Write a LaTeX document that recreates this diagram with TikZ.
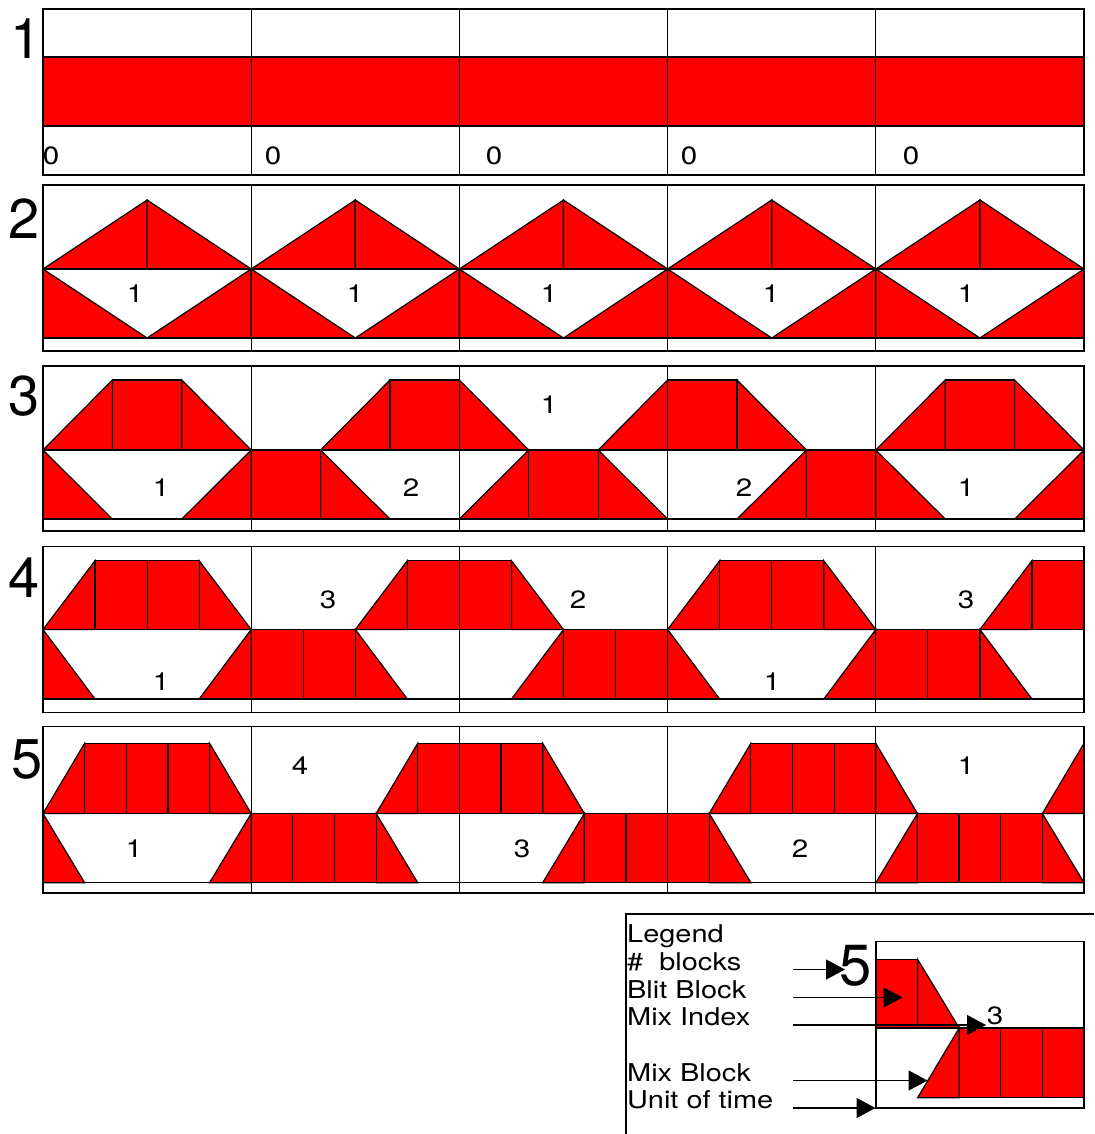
\documentclass[tikz,border=0pt]{standalone}
\usepackage{fontspec}
\setmainfont{TeX Gyre Heros}
\newfontfamily\widefont[FakeStretch=1.18]{TeX Gyre Heros}
\usetikzlibrary{arrows.meta}
\definecolor{blitred}{HTML}{FF0000}
\tikzset{
  blk/.style={draw=black, fill=blitred, line width=1.2pt, line join=miter},
  ln/.style={draw=black, line width=1.2pt},
  small/.style={inner sep=0pt, font=\widefont\fontsize{25}{30}\selectfont},
  big/.style={inner sep=0pt, font=\fontsize{56}{60}\selectfont},
  legtext/.style={inner sep=0pt, anchor=base west, font=\widefont\fontsize{24.5}{28}\selectfont},
  arr/.style={draw=black, line width=1.2pt, -{Triangle[length=19pt,width=20pt]}}
}
\def\XL{43}
\def\XR{1084}
\def\W{208.2}
% #1 n, #2 red top, #3 mid, #4 red bottom, #5 box top, #6 box bottom
\newcommand\blitrow[6]{%
  \begin{scope}
    \clip (\XL,#5) rectangle (\XR,#6);
    \pgfmathsetmacro\uu{\W/#1}
    \pgfmathtruncatemacro\kmax{ceil(5*#1/(#1-1))}
    \foreach \k in {-1,...,\kmax}{
      \pgfmathtruncatemacro\ss{\k*(#1-1)}
      \ifodd\k\relax \def\yt{#3}\def\yb{#4}\else \def\yt{#2}\def\yb{#3}\fi
      \pgfmathsetmacro\xa{\XL+\ss*\uu}
      \pgfmathsetmacro\xb{\XL+(\ss+1)*\uu}
      \pgfmathsetmacro\xc{\XL+(\ss+#1-1)*\uu}
      \pgfmathsetmacro\xd{\XL+(\ss+#1)*\uu}
      \path[blk] (\xa,\yb) -- (\xb,\yt) -- (\xb,\yb) -- cycle;
      \path[blk] (\xc,\yt) -- (\xd,\yb) -- (\xc,\yb) -- cycle;
      \ifnum#1>2
        \pgfmathtruncatemacro\mm{#1-2}
        \foreach \i in {1,...,\mm}{
          \pgfmathsetmacro\xe{\XL+(\ss+\i)*\uu}
          \pgfmathsetmacro\xf{\XL+(\ss+\i+1)*\uu}
          \path[blk] (\xe,\yt) rectangle (\xf,\yb);
        }
      \fi
    }
  \end{scope}
  \draw[ln] (\XL,#3) -- (\XR,#3);
  \draw[ln] (\XL,#4) -- (\XR,#4);
  \foreach \c in {1,2,3,4}{
    \pgfmathsetmacro\xx{\XL+\c*\W}
    \draw[ln] (\xx,#5) -- (\xx,#6);
  }
  \draw[ln] (\XL,#5) rectangle (\XR,#6);
}
\begin{document}
\begin{tikzpicture}[x=1pt,y=-1pt]
\useasboundingbox[fill=white] (0,0) rectangle (1094,1134);

% ---------- Row 1 ----------
\path[blk] (\XL,57) rectangle (\XR,126);
\foreach \c in {1,2,3,4}{
  \pgfmathsetmacro\xx{\XL+\c*\W}
  \draw[ln] (\xx,9) -- (\xx,175);
}
\draw[ln] (\XL,9) rectangle (\XR,175);
\node[big] (n1) at (26,39) {1};
\foreach \x [count=\j] in {51,273,494,689,911}
  \node[small] (z\j) at (\x,156) {0};

% ---------- Row 2 ----------
\blitrow{2}{200}{269}{338}{185}{351}
\node[big] (n2) at (24,219) {2};
\foreach \x [count=\j] in {135,355,549,771,966}
  \node[small] (r2l\j) at (\x,294) {1};

% ---------- Row 3 ----------
\blitrow{3}{380}{450}{519}{366}{531}
\node[big] (n3) at (24,396) {3};
\node[small] (r3a) at (161,488) {1};
\node[small] (r3b) at (411,488) {2};
\node[small] (r3c) at (549,405) {1};
\node[small] (r3d) at (744,488) {2};
\node[small] (r3e) at (966,488) {1};

% ---------- Row 4 ----------
\blitrow{4}{560.7}{629.5}{699}{546.7}{712.7}
\node[big] (n4) at (24,578) {4};
\node[small] (r4a) at (161,682) {1};
\node[small] (r4b) at (328,600) {3};
\node[small] (r4c) at (578,600) {2};
\node[small] (r4d) at (772,682) {1};
\node[small] (r4e) at (966,600) {3};

% ---------- Row 5 ----------
\blitrow{5}{743.3}{813.5}{882.7}{726.7}{893}
\node[big] (n5) at (27,759) {5};
\node[small] (r5a) at (134,849) {1};
\node[small] (r5b) at (300,766) {4};
\node[small] (r5c) at (522,849) {3};
\node[small] (r5d) at (800,849) {2};
\node[small] (r5e) at (966,766) {1};

% ---------- Legend ----------
\draw[ln] (626,1134) -- (626,914) -- (1094,914);
\path[blk] (876,959.3) rectangle (917.6,1028);
\path[blk] (917.6,959.3) -- (959.2,1028) -- (917.6,1028) -- cycle;
\path[blk] (917.6,1097.7) -- (959.2,1028) -- (959.2,1097.7) -- cycle;
\path[blk] (959.2,1028) rectangle (1000.8,1097.7);
\path[blk] (1000.8,1028) rectangle (1042.4,1097.7);
\path[blk] (1042.4,1028) rectangle (1084,1097.7);
\draw[ln] (876,1028) -- (1084,1028);
\draw[ln] (876,941.7) rectangle (1084,1108);

\node[legtext] (lg) at (627,942) {Legend};
\node[legtext] (lb) at (627,970) {\#\ \ blocks};
\node[legtext] (lbb) at (627,998) {Blit Block};
\node[legtext] (lmi) at (627,1025) {Mix Index};
\node[legtext] (lmb) at (627,1081) {Mix Block};
\node[legtext] (lu) at (627,1108) {Unit of time};

\node[big, font=\fontsize{58}{62}\selectfont] (l5) at (855.5,966) {5};
\node[small] (l3) at (995,1015.5) {3};

\coordinate (a1s) at (793,969.5);  \coordinate (a1e) at (845,969.5);
\coordinate (a2s) at (793,997.5);  \coordinate (a2e) at (902.5,997.5);
\coordinate (a3s) at (793,1025);   \coordinate (a3e) at (986,1025);
\coordinate (a4s) at (793,1080.5); \coordinate (a4e) at (927.5,1080.5);
\coordinate (a5s) at (793,1108);   \coordinate (a5e) at (875.5,1108);
\draw[arr] (a1s) -- (a1e);
\draw[arr] (a2s) -- (a2e);
\draw[arr] (a3s) -- (a3e);
\draw[arr] (a4s) -- (a4e);
\draw[arr] (a5s) -- (a5e);
\end{tikzpicture}
\end{document}
